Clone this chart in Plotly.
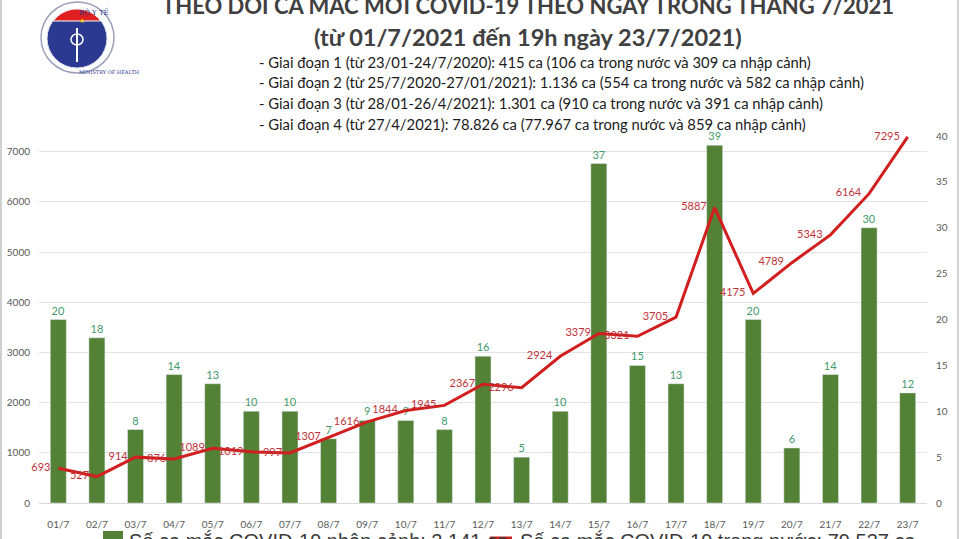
import math
import plotly.graph_objects as go

# ngay trong thang 7/2021
days = ["01/7", "02/7", "03/7", "04/7", "05/7", "06/7", "07/7", "08/7", "09/7", "10/7",
        "11/7", "12/7", "13/7", "14/7", "15/7", "16/7", "17/7", "18/7", "19/7", "20/7",
        "21/7", "22/7", "23/7"]
# ca nhap canh (cot, truc phai)
imported = [20, 18, 8, 14, 13, 10, 10, 7, 9, 9, 8, 16, 5, 10, 37, 15, 13, 39, 20, 6, 14, 30, 12]
# ca trong nuoc (duong, truc trai)
domestic = [693, 527, 914, 876, 1089, 1019, 997, 1307, 1616, 1844, 1945, 2367, 2296, 2924,
            3379, 3321, 3705, 5887, 4175, 4789, 5343, 6164, 7295]

left_ticks = [0, 1000, 2000, 3000, 4000, 5000, 6000, 7000]
right_ticks = [0, 5, 10, 15, 20, 25, 30, 35, 40]

title1 = "THEO DÕI CA MẮC MỚI COVID-19 THEO NGÀY TRONG THÁNG 7/2021"
title2 = "(từ 01/7/2021 đến 19h ngày 23/7/2021)"
notes = [
    "- Giai đoạn 1 (từ 23/01-24/7/2020): 415 ca (106 ca trong nước và 309 ca nhập cảnh)",
    "- Giai đoạn 2 (từ 25/7/2020-27/01/2021): 1.136 ca (554 ca trong nước và 582 ca nhập cảnh)",
    "- Giai đoạn 3 (từ 28/01-26/4/2021): 1.301 ca (910 ca trong nước và 391 ca nhập cảnh)",
    "- Giai đoạn 4 (từ 27/4/2021): 78.826 ca (77.967 ca trong nước và 859 ca nhập cảnh)",
]
legend_bar = "Số ca mắc COVID-19 nhập cảnh: 2.141 ca"
legend_line = "Số ca mắc COVID-19 trong nước: 79.537 ca"

GREEN = "#538135"
RED = "#d11f1f"
W, H = 960, 539
L, R, T, B = 39, 927, 136, 503


# pixel -> paper
def px(x):
    return (x - L) / (R - L)


def py(y):
    return (B - y) / (B - T)


def red_cap(cx, cy, r, ycut, n=24):
    # phan tren cua hinh tron (logo), cat ngang tai ycut
    a = math.acos((cy - ycut) / r)
    pts = []
    for k in range(n + 1):
        t = -a + 2 * a * k / n
        pts.append((cx + r * math.sin(t), cy - r * math.cos(t)))
    d = "M " + " L ".join("%.4f,%.4f" % (px(x), py(y)) for x, y in pts) + " Z"
    return d


fig = go.Figure()

fig.add_trace(go.Bar(
    x=days, y=imported, name=legend_bar, marker_color=GREEN,
    text=imported, textposition="outside", cliponaxis=False,
    textfont=dict(color="#3f9a6c", size=11, family="Lato"),
    showlegend=False, yaxis="y"))

fig.add_trace(go.Scatter(
    x=days, y=domestic, name=legend_line, mode="lines+markers+text",
    line=dict(color=RED, width=3), marker=dict(size=11, color="rgba(0,0,0,0)"),
    text=domestic, textposition="middle left",
    textfont=dict(color="#c0323a", size=11, family="Lato"),
    cliponaxis=False, showlegend=False, yaxis="y2"))

ann = []
ann.append(dict(x=px(528), y=py(5), text="<b>" + title1 + "</b>", showarrow=False,
                xref="paper", yref="paper", xanchor="center", yanchor="middle",
                font=dict(size=22, color="#404040", family="Lato")))
ann.append(dict(x=px(528), y=py(37), text="<b>" + title2 + "</b>", showarrow=False,
                xref="paper", yref="paper", xanchor="center", yanchor="middle",
                font=dict(size=23.5, color="#404040", family="Lato")))
for i, line in enumerate(notes):
    ann.append(dict(x=px(257), y=py(62 + i * 20.5), text=line, showarrow=False,
                    xref="paper", yref="paper", xanchor="left", yanchor="middle",
                    font=dict(size=14.8, color="#1a1a1a", family="Lato")))

# chu thich o duoi (bi cat mot nua)
ann.append(dict(x=px(127), y=py(541), text=legend_bar, showarrow=False,
                xref="paper", yref="paper", xanchor="left", yanchor="middle",
                font=dict(size=20, color="#3a3a3a", family="Liberation Sans")))
ann.append(dict(x=px(518), y=py(541), text=legend_line, showarrow=False,
                xref="paper", yref="paper", xanchor="left", yanchor="middle",
                font=dict(size=20, color="#3a3a3a", family="Liberation Sans")))

# logo Bo Y te
ann.append(dict(x=px(77), y=py(5), text="BỘ Y TẾ", showarrow=False,
                xref="paper", yref="paper", font=dict(size=7, color="#2b3990", family="DejaVu Serif")))
ann.append(dict(x=px(77), y=py(67), text="MINISTRY OF HEALTH", showarrow=False,
                xref="paper", yref="paper", font=dict(size=5, color="#2b3990", family="DejaVu Serif")))
ann.append(dict(x=px(77), y=py(15), text="★", showarrow=False,
                xref="paper", yref="paper", font=dict(size=7, color="#ffd200", family="DejaVu Sans")))

shapes = [
    dict(type="circle", xref="paper", yref="paper", x0=px(41), x1=px(114), y0=py(2), y1=py(73),
         line=dict(color="#9aa0b8", width=1.5)),
    dict(type="circle", xref="paper", yref="paper", x0=px(47), x1=px(107), y0=py(9), y1=py(68),
         fillcolor="#2b3990", line=dict(color="#dfe2ee", width=1)),
    dict(type="path", xref="paper", yref="paper", path=red_cap(77, 38.5, 29.5, 21),
         fillcolor="#e02020", line=dict(color="white", width=1)),
    dict(type="line", xref="paper", yref="paper", x0=px(77), x1=px(77), y0=py(28), y1=py(62),
         line=dict(color="white", width=2)),
    dict(type="circle", xref="paper", yref="paper", x0=px(71), x1=px(83), y0=py(34), y1=py(45),
         line=dict(color="white", width=1.5)),
    # khung trang
    dict(type="line", xref="paper", yref="paper", x0=px(1), x1=px(1), y0=py(0), y1=py(539),
         line=dict(color="#d0d0d0", width=2)),
    dict(type="line", xref="paper", yref="paper", x0=px(958), x1=px(958), y0=py(0), y1=py(539),
         line=dict(color="#d0d0d0", width=2)),
    # ky hieu chu thich
    dict(type="rect", xref="paper", yref="paper", x0=px(103), x1=px(123), y0=py(531), y1=py(545),
         fillcolor=GREEN, line=dict(width=0)),
    dict(type="line", xref="paper", yref="paper", x0=px(490), x1=px(512), y0=py(538), y1=py(538),
         line=dict(color=RED, width=3)),
]

fig.update_layout(
    width=W, height=H,
    margin=dict(l=L, r=W - R, t=T, b=H - B, autoexpand=False),
    paper_bgcolor="white", plot_bgcolor="white",
    bargap=0.585,
    font=dict(family="Lato", size=10, color="#595959"),
    xaxis=dict(range=[-0.5, 22.5], showgrid=False, showline=True, linecolor="#d9d9d9", ticks="",
               ticklabelstandoff=12, tickfont=dict(size=10, color="#595959")),
    yaxis=dict(side="right", range=[0, 40], tickvals=right_ticks, showgrid=False,
               zeroline=False, ticklabelstandoff=8, tickfont=dict(size=10, color="#595959")),
    yaxis2=dict(side="left", overlaying="y", range=[0, 7313], tickvals=left_ticks,
                showgrid=True, gridcolor="#e3e3e3", zeroline=False, ticklabelstandoff=8,
                tickfont=dict(size=10, color="#595959")),
    annotations=ann,
    shapes=shapes,
)

# bo le mac dinh cua trang de hinh nam dung goc tren-trai
fig.write_html("out.html", config={"displayModeBar": False},
               post_script="document.body.style.margin='0px';document.body.style.overflow='hidden';")
